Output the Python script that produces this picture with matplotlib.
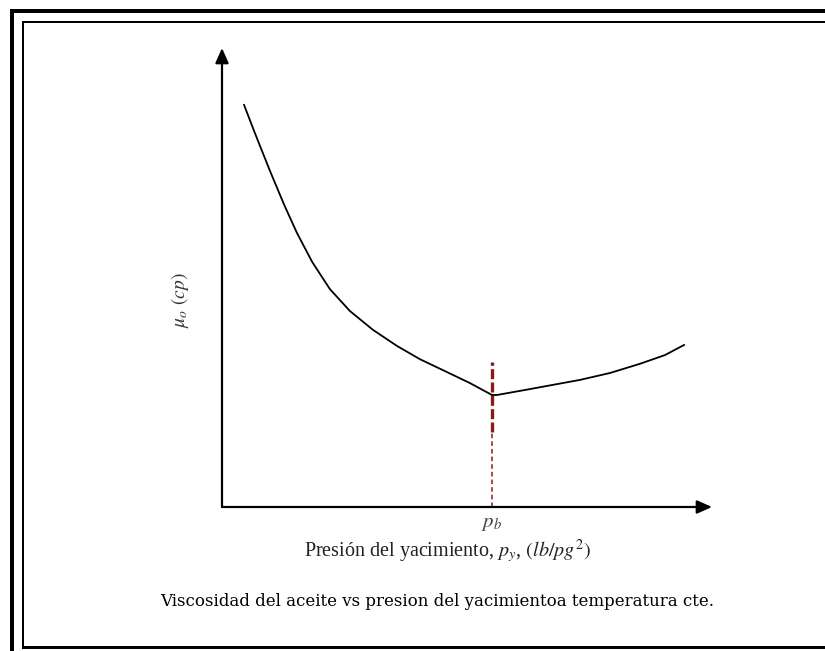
import matplotlib.pyplot as plt
from matplotlib.patches import Rectangle

plt.rcParams["mathtext.fontset"] = "stix"

# curve of oil viscosity vs reservoir pressure (arbitrary units, 0-10 on both axes)
p_left = [0.45, 0.67, 0.98, 1.27, 1.53, 1.84, 2.20, 2.61, 3.08, 3.57, 4.04, 4.59, 5.06, 5.51]
mu_left = [8.76, 8.15, 7.32, 6.58, 5.97, 5.34, 4.75, 4.27, 3.86, 3.51, 3.22, 2.94, 2.70, 2.44]
p_right = [5.51, 5.61, 6.29, 7.31, 7.92, 8.53, 9.04, 9.43]
mu_right = [2.44, 2.44, 2.57, 2.77, 2.92, 3.12, 3.31, 3.53]
p_bubble = 5.51
dash_top = 3.16
dash_thick_end = 1.63

W, H = 825, 651
fig = plt.figure(figsize=(W / 100, H / 100), dpi=100)

# frame drawn in pixel coordinates
bg = fig.add_axes([0, 0, 1, 1])
bg.set_xlim(0, W)
bg.set_ylim(H, 0)
bg.axis("off")
bg.add_patch(Rectangle((10, 9), 4, 700, color="black", lw=0))
bg.add_patch(Rectangle((10, 9), 900, 4, color="black", lw=0))
bg.add_patch(Rectangle((22, 21), 2, 627, color="black", lw=0))
bg.add_patch(Rectangle((22, 21), 900, 2, color="black", lw=0))
bg.add_patch(Rectangle((22, 646), 900, 3, color="black", lw=0))

x0, x1, y0, y1 = 222, 712, 507, 48
ax = fig.add_axes([x0 / W, (H - y0) / H, (x1 - x0) / W, (y0 - y1) / H])
ax.set_xlim(0, 10)
ax.set_ylim(0, 10)
ax.patch.set_alpha(0)
for s in ax.spines.values():
    s.set_visible(False)
ax.set_xticks([])
ax.set_yticks([])

# axes with arrowheads
arrow = dict(arrowstyle="-|>,head_length=0.9,head_width=0.4", color="black", lw=1.6,
             shrinkA=0, shrinkB=0)
ax.annotate("", xy=(10, 0), xytext=(0, 0), arrowprops=arrow, annotation_clip=False)
ax.annotate("", xy=(0, 10), xytext=(0, 0), arrowprops=arrow, annotation_clip=False)

ax.plot(p_left, mu_left, color="black", lw=1.3)
ax.plot(p_right, mu_right, color="black", lw=1.3)

# bubble point marker line
ax.plot([p_bubble, p_bubble], [dash_thick_end, dash_top], color="#8b1a1a", lw=2.4,
        linestyle=(0, (3, 1)))
ax.plot([p_bubble, p_bubble], [0, dash_thick_end], color="#8b1a1a", lw=1.1,
        linestyle=(0, (3, 2)))

serif = "Liberation Serif"
ax.text(p_bubble, -0.35, r"$p_b$", ha="center", va="center", fontsize=15,
        color="#444444", family=serif)
ax.text(-0.86, 4.5, r"$\mu_o\ (cp)$", rotation=90, ha="center", va="center",
        fontsize=14, color="#333333", family=serif)
bg.text(447, 551, r"Presión del yacimiento, $p_y$, $(lb/pg^2)$", ha="center", va="center",
        fontsize=14.5, color="#222222", family=serif)
bg.text(437, 601, "Viscosidad del aceite vs presion del yacimientoa temperatura cte.",
        ha="center", va="center", fontsize=12, color="black", family="DejaVu Serif")

fig.savefig("out.png", dpi=100)
